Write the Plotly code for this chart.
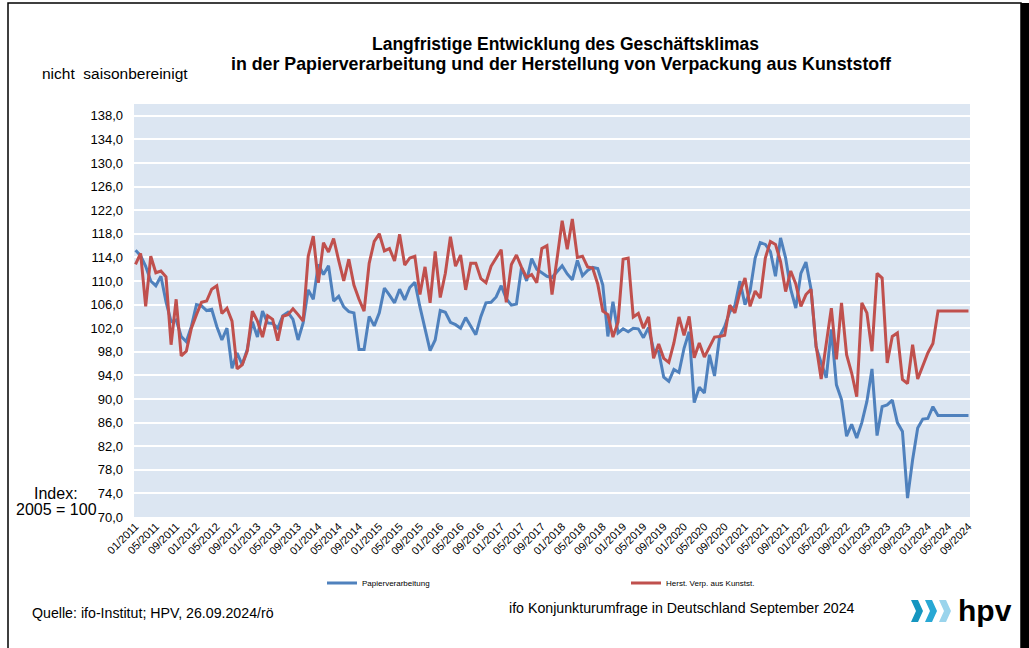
import plotly.graph_objects as go

# ---- data ----
start_year, n_months = 2011, 165
months = [f"{(k % 12) + 1:02d}/{start_year + k // 12}" for k in range(n_months)]
tick_labels = months[::4]

papier = [115.2, 114.3, 112.5, 110.0, 109.2, 110.8, 106.5, 103.1, 103.4, 100.6, 99.7, 102.3,
          106.0, 105.8, 105.0, 105.2, 102.3, 100.0, 102.0, 95.2, 97.8, 95.8, 98.4, 103.1,
          100.5, 104.9, 102.9, 102.8, 102.0, 104.1, 104.7, 103.5, 100.0, 102.9, 108.5, 106.9,
          112.8, 111.1, 112.6, 106.6, 107.4, 105.6, 104.8, 104.6, 98.4, 98.4, 104.0, 102.4,
          104.6, 108.8, 107.6, 106.3, 108.6, 106.8, 108.9, 109.8, 105.6, 102.0, 98.2, 100.0,
          105.0, 104.7, 103.0, 102.6, 102.0, 103.8, 102.3, 100.9, 104.0, 106.3, 106.4, 107.3,
          109.2, 107.0, 105.9, 106.1, 112.3, 110.0, 113.8, 112.0, 111.4, 110.8, 110.6, 111.6,
          112.6, 111.2, 110.2, 113.5, 110.9, 111.8, 112.3, 112.1, 109.3, 100.6, 106.5, 101.2,
          101.9, 101.4, 102.0, 101.9, 100.4, 102.1, 98.3, 98.1, 93.7, 93.0, 95.0, 94.5,
          98.6, 101.4, 89.4, 92.0, 91.0, 97.5, 93.9, 100.6, 102.3, 104.8, 105.8, 110.0,
          106.0, 108.3, 113.9, 116.5, 116.2, 115.0, 110.8, 117.3, 113.9, 108.6, 105.4, 111.3,
          113.2, 108.6, 98.8, 96.1, 93.6, 101.8, 92.4, 89.9, 83.7, 85.7, 83.4, 86.0,
          89.6, 95.1, 83.8, 88.7, 89.0, 89.8, 86.0, 84.5, 73.2, 79.7, 85.1, 86.6,
          86.7, 88.7, 87.2, 87.2, 87.2, 87.2, 87.2, 87.2, 87.2]

kunststoff = [112.8, 114.7, 105.7, 114.2, 111.4, 111.7, 110.7, 99.2, 106.9, 97.3, 98.1, 102.0,
              104.3, 106.4, 106.6, 108.6, 109.2, 104.5, 105.4, 103.2, 95.1, 95.8, 98.1, 104.9,
              103.2, 100.5, 104.1, 103.5, 99.9, 104.0, 104.3, 105.3, 104.3, 103.2, 114.2, 117.6,
              109.7, 116.5, 114.9, 117.2, 113.5, 110.0, 113.7, 109.3, 106.9, 104.9, 113.0, 116.7,
              118.0, 115.1, 115.5, 113.4, 117.9, 112.7, 113.9, 114.2, 107.7, 112.4, 106.3, 115.0,
              107.2, 111.3, 117.5, 112.5, 114.4, 108.5, 113.0, 113.0, 110.4, 109.7, 112.5, 113.8,
              115.3, 106.4, 112.8, 114.4, 112.3, 110.6, 111.1, 109.7, 115.5, 116.0, 107.7, 113.8,
              120.2, 115.4, 120.5, 114.0, 114.2, 112.4, 112.2, 109.5, 104.9, 104.3, 100.5, 103.0,
              113.7, 113.9, 103.9, 104.5, 102.0, 103.9, 96.9, 99.3, 96.9, 96.2, 99.5, 103.9,
              100.8, 104.0, 97.0, 99.5, 97.1, 98.8, 100.5, 100.6, 100.8, 105.9, 104.6, 108.1,
              110.5, 105.7, 108.3, 107.1, 113.9, 116.7, 116.2, 113.3, 108.2, 111.7, 109.5, 105.7,
              107.7, 108.6, 99.0, 93.4, 99.7, 105.4, 96.7, 106.3, 97.5, 94.4, 90.4, 106.3,
              104.6, 98.1, 111.3, 110.5, 96.1, 100.6, 101.2, 93.3, 92.6, 99.2, 93.4, 95.7,
              97.8, 99.4, 104.9, 104.9, 104.9, 104.9, 104.9, 104.9, 104.9]

series_names = ["Papierverarbeitung", "Herst. Verp. aus Kunstst."]
series_colors = ["#4F81BD", "#C0504D"]

# ---- layout geometry (pixels) ----
W, H = 1029, 648
L, R, T, B = 134, 970, 104, 517


def px(x):
    return (x - L) / (R - L)


def py(y):
    return (B - y) / (B - T)


FONT = "Liberation Sans, Arial, sans-serif"

fig = go.Figure()
fig.add_trace(go.Scatter(x=months, y=papier, mode="lines", name=series_names[0],
                         line=dict(color=series_colors[0], width=3), legend="legend"))
fig.add_trace(go.Scatter(x=months, y=kunststoff, mode="lines", name=series_names[1],
                         line=dict(color=series_colors[1], width=3), legend="legend2"))

annotations = [
    dict(text="<b>Langfristige Entwicklung des Geschäftsklimas</b>", x=px(565), y=py(44),
         font=dict(size=17.5)),
    dict(text="<b>in der Papierverarbeitung und der Herstellung von Verpackung aus Kunststoff</b>",
         x=px(561), y=py(64), font=dict(size=17.8)),
    dict(text="nicht  saisonbereinigt", x=px(40), y=py(74), xanchor="left", font=dict(size=15.5)),
    dict(text="Index:", x=px(56), y=py(493), font=dict(size=16)),
    dict(text="2005 = 100", x=px(56), y=py(509), font=dict(size=16)),
    dict(text="Quelle: ifo-Institut; HPV, 26.09.2024/rö", x=px(30), y=py(613), xanchor="left",
         font=dict(size=14.2)),
    dict(text="ifo Konjunkturumfrage in Deutschland September 2024", x=px(507), y=py(608),
         xanchor="left", font=dict(size=14.2)),
    dict(text="<b>hpv</b>", x=px(956), y=py(610), xanchor="left", font=dict(size=30)),
]
for a in annotations:
    a.update(xref="paper", yref="paper", showarrow=False, yanchor="middle")
    a.setdefault("xanchor", "center")
    a["font"].update(family=FONT, color="#000000")

shapes = [
    dict(type="rect", xref="paper", yref="paper", x0=px(8), x1=px(1021), y0=py(3), y1=py(660),
         line=dict(color="#000000", width=1.5), fillcolor="rgba(0,0,0,0)", layer="below"),
    dict(type="rect", xref="paper", yref="paper", x0=px(1021), x1=px(1030), y0=py(3), y1=py(660),
         line=dict(width=0), fillcolor="#000000"),
]
wave_colors = ["#1596C0", "#28A8D4", "#9AD4EC"]
for k, col in enumerate(wave_colors):
    x0 = 911 + k * 14
    pts = [(x0, 600), (x0 + 7, 600), (x0 + 12, 611), (x0 + 7, 622), (x0, 622), (x0 + 5, 611)]
    path = "M " + " L ".join(f"{px(a)},{py(b)}" for a, b in pts) + " Z"
    shapes.append(dict(type="path", xref="paper", yref="paper", path=path,
                       fillcolor=col, line=dict(width=0)))

fig.update_layout(
    width=W, height=H,
    margin=dict(l=L, r=W - R, t=T, b=H - B),
    paper_bgcolor="#FFFFFF",
    plot_bgcolor="#DCE6F2",
    separators=",.",
    font=dict(family=FONT, color="#000000"),
    annotations=annotations,
    shapes=shapes,
    showlegend=True,
    legend=dict(x=px(322), y=py(583), xanchor="left", yanchor="middle", orientation="h",
                font=dict(size=8, family=FONT), bgcolor="rgba(0,0,0,0)"),
    legend2=dict(x=px(626), y=py(583), xanchor="left", yanchor="middle", orientation="h",
                 font=dict(size=8, family=FONT), bgcolor="rgba(0,0,0,0)"),
    xaxis=dict(type="category", range=[-0.3, n_months - 0.7], tickmode="array",
               tickvals=tick_labels, ticktext=tick_labels, tickangle=-45,
               tickfont=dict(size=11), showgrid=False, zeroline=False, showline=False),
    yaxis=dict(range=[70, 140], tick0=70, dtick=4, tickformat=".1f", tickfont=dict(size=13),
               showgrid=True, gridcolor="#FFFFFF", gridwidth=2, zeroline=False,
               showline=False, ticklabelstandoff=10),
)

fig.write_html("out.html", config={"displayModeBar": False},
               post_script="document.body.style.margin='0';document.body.style.overflow='hidden';")
